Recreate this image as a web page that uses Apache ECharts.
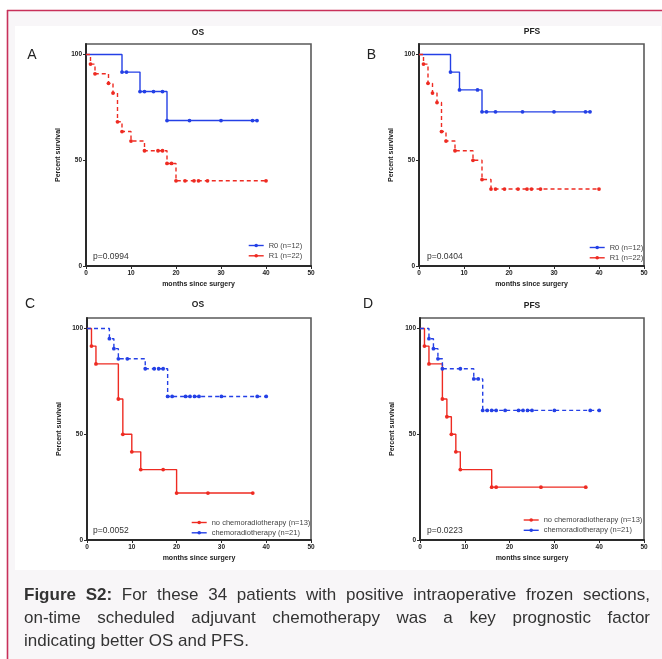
<!DOCTYPE html>
<html><head><meta charset="utf-8">
<script src="https://cdn.jsdelivr.net/npm/echarts@6/dist/echarts.min.js"></script>
<style>html,body{margin:0;padding:0;background:#fff}#c{width:662px;height:659px}</style>
</head><body><div id="c"></div><script>
// ---------- data ----------
const xTicks = [0, 10, 20, 30, 40, 50];
const yTicks = [0, 50, 100];

// Panel A: OS by margin status
const A_R0_t = [0, 8, 9, 12, 13, 15, 17, 18, 23, 30, 37, 38];
const A_R0_s = [100, 91.7, 91.7, 82.5, 82.5, 82.5, 82.5, 68.8, 68.8, 68.8, 68.8, 68.8];
const A_R1_t = [0, 1, 2, 5, 6, 7, 8, 10, 13, 16, 17, 18, 19, 20, 22, 24, 25, 27, 40];
const A_R1_s = [100, 95.5, 90.9, 86.4, 81.8, 68.2, 63.6, 59.1, 54.5, 54.5, 54.5, 48.5, 48.5, 40.3, 40.3, 40.3, 40.3, 40.3, 40.3];

// Panel B: PFS by margin status
const B_R0_t = [0, 7, 9, 13, 14, 15, 17, 23, 30, 37, 38];
const B_R0_s = [100, 91.7, 83.3, 83.3, 72.9, 72.9, 72.9, 72.9, 72.9, 72.9, 72.9];
const B_R1_t = [0, 1, 2, 3, 4, 5, 6, 8, 12, 14, 16, 17, 19, 22, 24, 25, 27, 40];
const B_R1_s = [100, 95.5, 86.4, 81.8, 77.3, 63.6, 59.1, 54.5, 50.0, 40.9, 36.4, 36.4, 36.4, 36.4, 36.4, 36.4, 36.4, 36.4];

// Panel C: OS by chemoradiotherapy
const C_no_t = [0, 1, 2, 7, 8, 10, 12, 17, 20, 27, 37];
const C_no_s = [100, 91.7, 83.3, 66.7, 50.0, 41.7, 33.3, 33.3, 22.2, 22.2, 22.2];
const C_ch_t = [0, 5, 6, 7, 9, 13, 15, 16, 17, 18, 19, 22, 23, 24, 25, 30, 38, 40];
const C_ch_s = [100, 95.2, 90.5, 85.7, 85.7, 81.0, 81.0, 81.0, 81.0, 67.9, 67.9, 67.9, 67.9, 67.9, 67.9, 67.9, 67.9, 67.9];

// Panel D: PFS by chemoradiotherapy
const D_no_t = [0, 1, 2, 5, 6, 7, 8, 9, 16, 17, 27, 37];
const D_no_s = [100, 91.7, 83.3, 66.7, 58.3, 50.0, 41.7, 33.3, 25.0, 25.0, 25.0, 25.0];
const D_ch_t = [0, 2, 3, 4, 5, 9, 12, 13, 14, 15, 16, 17, 19, 22, 23, 24, 25, 30, 38, 40];
const D_ch_s = [100, 95.2, 90.5, 85.7, 81.0, 81.0, 76.2, 76.2, 61.3, 61.3, 61.3, 61.3, 61.3, 61.3, 61.3, 61.3, 61.3, 61.3, 61.3, 61.3];

const captionLines = [
  'Figure S2: For these 34 patients with positive intraoperative frozen sections,',
  'on-time scheduled adjuvant chemotherapy was a key prognostic factor',
  'indicating better OS and PFS.'
];

// ---------- styling / layout ----------
const BLUE = '#2440e6', RED = '#ee2b22';
const FONT = '"Liberation Sans", Arial, sans-serif';

const panels = [
  { grid: {left: 86, top: 44, width: 225, height: 222}, title: 'OS', tPos: [198, 33], letter: 'A', lPos: [32, 55],
    p: 'p=0.0994', pPos: [93, 257], leg: [248, 240.5],
    series: [{name: 'R0 (n=12)', t: A_R0_t, s: A_R0_s, c: BLUE, d: false}, {name: 'R1 (n=22)', t: A_R1_t, s: A_R1_s, c: RED, d: true}] },
  { grid: {left: 419, top: 44, width: 225, height: 222}, title: 'PFS', tPos: [532, 32], letter: 'B', lPos: [371.5, 55],
    p: 'p=0.0404', pPos: [427, 257], leg: [589, 242.5],
    series: [{name: 'R0 (n=12)', t: B_R0_t, s: B_R0_s, c: BLUE, d: false}, {name: 'R1 (n=22)', t: B_R1_t, s: B_R1_s, c: RED, d: true}] },
  { grid: {left: 87, top: 318, width: 224, height: 222}, title: 'OS', tPos: [198, 305], letter: 'C', lPos: [30, 304],
    p: 'p=0.0052', pPos: [93, 531], leg: [191, 517.5],
    series: [{name: 'no chemoradiotherapy (n=13)', t: C_no_t, s: C_no_s, c: RED, d: false}, {name: 'chemoradiotherapy (n=21)', t: C_ch_t, s: C_ch_s, c: BLUE, d: true}] },
  { grid: {left: 420, top: 318, width: 224, height: 222}, title: 'PFS', tPos: [532, 306], letter: 'D', lPos: [368, 304],
    p: 'p=0.0223', pPos: [427, 531], leg: [523, 515],
    series: [{name: 'no chemoradiotherapy (n=13)', t: D_no_t, s: D_no_s, c: RED, d: false}, {name: 'chemoradiotherapy (n=21)', t: D_ch_t, s: D_ch_s, c: BLUE, d: true}] }
];

const grids = [], xAxes = [], yAxes = [], series = [], legends = [], graphics = [];

// background / frame
graphics.push({type: 'rect', z: -10, shape: {x: 7, y: 10, width: 660, height: 660}, style: {fill: '#f8f6f8'}});
graphics.push({type: 'rect', z: -9, shape: {x: 15, y: 26, width: 646, height: 544}, style: {fill: '#ffffff'}});
graphics.push({type: 'line', z: -8, shape: {x1: 7, y1: 10.5, x2: 662, y2: 10.5}, style: {stroke: '#c8305a', lineWidth: 1.6}});
graphics.push({type: 'line', z: -8, shape: {x1: 7.5, y1: 10, x2: 7.5, y2: 659}, style: {stroke: '#c8305a', lineWidth: 1.6}});

panels.forEach((P, i) => {
  grids.push(Object.assign({show: true, borderColor: '#5a5a5a', borderWidth: 1.6, backgroundColor: 'transparent'}, P.grid));
  xAxes.push({
    gridIndex: i, type: 'value', min: 0, max: 50, interval: 10,
    axisLine: {show: true, onZero: false, lineStyle: {color: '#2a2a2a', width: 2}},
    axisTick: {show: true, length: 3, lineStyle: {color: '#2a2a2a', width: 1}},
    axisLabel: {fontSize: 6.5, fontWeight: 'bold', color: '#222', margin: 4, fontFamily: FONT},
    splitLine: {show: false},
    name: 'months since surgery', nameLocation: 'middle', nameGap: 15,
    nameTextStyle: {fontSize: 7, fontWeight: 'bold', color: '#222', fontFamily: FONT}
  });
  yAxes.push({
    gridIndex: i, type: 'value', min: 0, max: 105, interval: 50,
    axisLine: {show: true, onZero: false, lineStyle: {color: '#2a2a2a', width: 2}},
    axisTick: {show: true, length: 3, lineStyle: {color: '#2a2a2a', width: 1}, customValues: yTicks},
    axisLabel: {fontSize: 6.5, fontWeight: 'bold', color: '#222', margin: 4, fontFamily: FONT, customValues: yTicks,
      formatter: v => (yTicks.indexOf(v) >= 0 ? String(v) : '')},
    splitLine: {show: false},
    name: 'Percent survival', nameLocation: 'middle', nameGap: 24, nameRotate: 90,
    nameTextStyle: {fontSize: 7, fontWeight: 'bold', color: '#222', fontFamily: FONT}
  });
  P.series.forEach(S => {
    series.push({
      type: 'line', name: S.name, xAxisIndex: i, yAxisIndex: i, step: 'end',
      data: S.t.map((x, k) => k === 0 ? {value: [x, S.s[k]], symbol: 'none'} : [x, S.s[k]]),
      symbol: 'circle', symbolSize: 3.8, showAllSymbol: true, animation: false,
      lineStyle: {color: S.c, width: 1.4, type: S.d ? [4, 3] : 'solid'},
      itemStyle: {color: S.c}, emphasis: {disabled: true}
    });
  });
  legends.push({
    data: P.series.map(S => S.name), left: P.leg[0], top: P.leg[1], orient: 'vertical', padding: 0,
    itemWidth: 15, itemHeight: 4.5, itemGap: 0.3, selectedMode: false,
    lineStyle: {type: 'solid', width: 1.4},
    textStyle: {fontSize: 7.5, color: '#444', fontFamily: FONT, lineHeight: 10}
  });
  graphics.push({type: 'text', x: P.tPos[0], y: P.tPos[1], z: 50,
    style: {text: P.title, font: 'bold 8.5px ' + FONT, fill: '#222', textAlign: 'center', textVerticalAlign: 'middle'}});
  graphics.push({type: 'text', x: P.lPos[0], y: P.lPos[1], z: 50,
    style: {text: P.letter, font: '14px ' + FONT, fill: '#222', textAlign: 'center', textVerticalAlign: 'middle'}});
  graphics.push({type: 'text', x: P.pPos[0], y: P.pPos[1], z: 50,
    style: {text: P.p, font: '8.5px ' + FONT, fill: '#333', textAlign: 'left', textVerticalAlign: 'middle'}});
});

// caption (justified like the reference)
const CAP_SIZE = 17, CAP_LEFT = 24, CAP_RIGHT = 650, CAP_Y0 = 595, CAP_LH = 23;
const cv = document.createElement('canvas').getContext('2d');
function tw(t, b) { cv.font = (b ? 'bold ' : '') + CAP_SIZE + 'px ' + FONT; return cv.measureText(t).width; }
captionLines.forEach((line, li) => {
  const words = line.split(' ');
  const bolds = words.map((w, wi) => li === 0 && wi < 2);
  const widths = words.map((w, wi) => tw(w, bolds[wi]));
  const total = widths.reduce((a, b) => a + b, 0);
  const justify = li < captionLines.length - 1;
  const gap = justify ? (CAP_RIGHT - CAP_LEFT - total) / (words.length - 1) : tw(' ', false);
  let x = CAP_LEFT;
  words.forEach((w, wi) => {
    graphics.push({type: 'text', x: x, y: CAP_Y0 + li * CAP_LH, z: 50,
      style: {text: w, font: (bolds[wi] ? 'bold ' : '') + CAP_SIZE + 'px ' + FONT, fill: '#333', textVerticalAlign: 'middle'}});
    x += widths[wi] + gap;
  });
});

const chart = echarts.init(document.getElementById('c'));
chart.setOption({
  backgroundColor: '#ffffff',
  animation: false,
  grid: grids, xAxis: xAxes, yAxis: yAxes, series: series, legend: legends,
  graphic: {elements: graphics}
});
</script></body></html>
